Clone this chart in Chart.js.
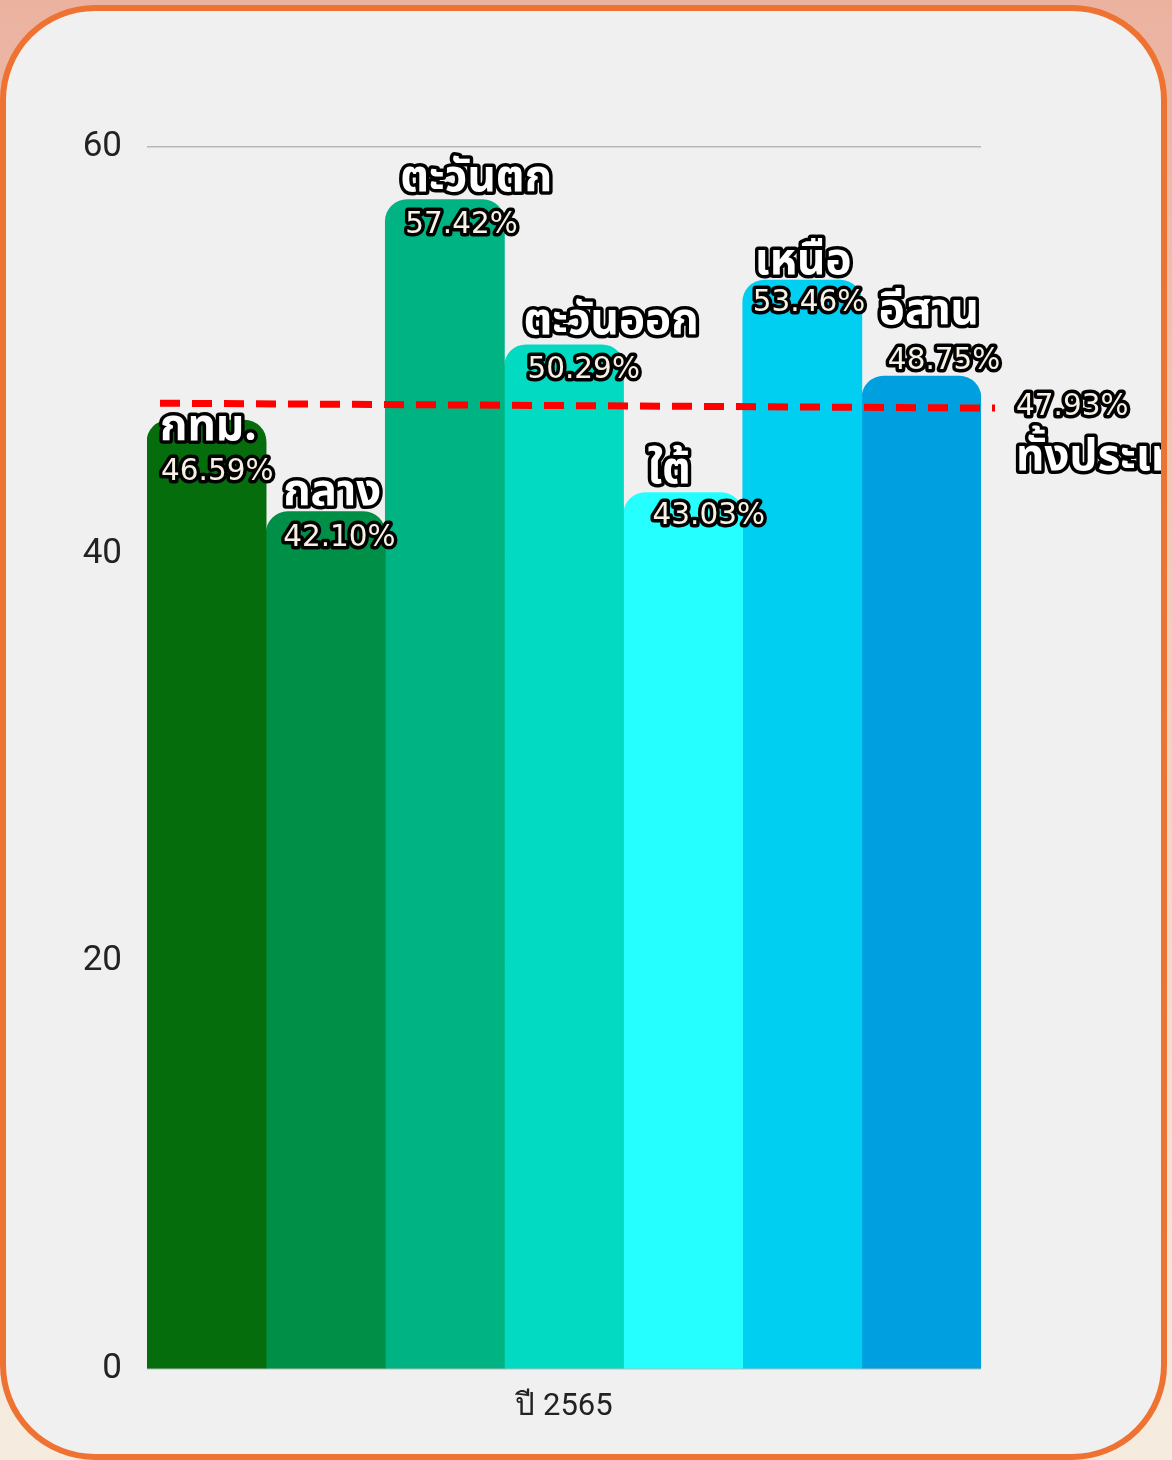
<!DOCTYPE html>
<html>
<head>
<meta charset="utf-8">
<script src="https://cdn.jsdelivr.net/npm/chart.js@4/dist/chart.umd.min.js"></script>
<style>
  html, body { margin: 0; padding: 0; }
  body {
    width: 1172px; height: 1460px; position: relative; overflow: hidden;
    background: linear-gradient(to bottom, #ebb2a0 0%, #f1d0bd 45%, #f5ece0 100%);
  }
  #card {
    position: absolute; left: 0; top: 5px; width: 1155px; height: 1443px;
    border: 6px solid #ee7333; border-radius: 95px;
    background: #f0f0f0; overflow: hidden;
  }
  #wrap { position: absolute; left: 0; top: 0; width: 1155px; height: 1443px; }
</style>
</head>
<body>
<div id="card"><div id="wrap"><canvas id="bar-chart"></canvas></div></div>
<script>
// data
const years = [ 'ปี 2565' ];
const regions = [ 'กทม.', 'กลาง', 'ตะวันตก', 'ตะวันออก', 'ใต้', 'เหนือ', 'อีสาน' ];
const shares = [ 46.59, 42.10, 57.42, 50.29, 43.03, 53.46, 48.75 ];
const nationalShare = 47.93;
const nationalName = 'ทั้งประเทศ';
const nationalLineEnds = [ 47.42, 47.18 ];
const yTicks = [ 0, 20, 40, 60 ];

const barColors = [ '#066d0d', '#008f46', '#00b383', '#02dbc2', '#26ffff', '#00cff2', '#00a0e0' ];
// label offsets (x from bar left, y baseline from bar top)
const nameShift = [ [13, 20], [17, -7], [15, -9], [19, -11], [24, -10], [12, -6], [17, -52] ];
const pctShift = [ [14, 60], [17, 34], [20, 33], [23, 33], [29, 31], [10, 31], [26, -7] ];

const nameFont = 'bold 44px "Noto Sans Thai", "Noto Sans", sans-serif';
const pctFont = '29.5px "DejaVu Sans", sans-serif';

function outlined( ctx, text, x, y, font, fill ) {
    ctx.font = font;
    ctx.lineJoin = 'round';
    ctx.lineWidth = 7;
    ctx.strokeStyle = '#000';
    ctx.strokeText( text, x, y );
    ctx.fillStyle = fill;
    ctx.fillText( text, x, y );
}

const labelPlugin = {
    id: 'regionLabels',
    afterDatasetsDraw( chart ) {
        const ctx = chart.ctx;
        const y = chart.scales.y;
        const area = chart.chartArea;
        ctx.save();
        // national average line
        ctx.strokeStyle = '#ff0000';
        ctx.lineWidth = 7;
        ctx.setLineDash( [ 20, 12 ] );
        ctx.beginPath();
        ctx.moveTo( area.left + 13, y.getPixelForValue( nationalLineEnds[0] ) );
        ctx.lineTo( area.right + 14, y.getPixelForValue( nationalLineEnds[1] ) );
        ctx.stroke();
        ctx.setLineDash( [] );
        ctx.textAlign = 'left';
        ctx.textBaseline = 'alphabetic';
        chart.data.datasets.forEach( function ( ds, i ) {
            const bar = chart.getDatasetMeta( i ).data[0];
            const left = bar.x - bar.width / 2;
            outlined( ctx, ds.label, left + nameShift[i][0], bar.y + nameShift[i][1], nameFont, '#ffffff' );
            outlined( ctx, ds.data[0].toFixed( 2 ) + '%', left + pctShift[i][0], bar.y + pctShift[i][1], pctFont, '#f6f1e4' );
        });
        const ny = y.getPixelForValue( nationalShare );
        outlined( ctx, nationalShare.toFixed( 2 ) + '%', area.right + 35, ny + 22, pctFont, '#f6f1e4' );
        outlined( ctx, nationalName, area.right + 35, ny + 77, nameFont, '#ffffff' );
        ctx.restore();
    }
};

window.addEventListener( 'load', function () {
    const datasets = regions.map( function ( name, i ) {
        return {
            label: name,
            data: [ shares[i] ],
            backgroundColor: barColors[i],
            borderRadius: 22,
            borderSkipped: 'start',
            categoryPercentage: 1,
            barPercentage: 1
        };
    });

    new Chart( document.querySelector( '#bar-chart' ), {
        type: 'bar',
        data: { labels: years, datasets: datasets },
        options: {
            responsive: true,
            maintainAspectRatio: false,
            animation: false,
            layout: { padding: { left: 0, top: 136, right: 180, bottom: 0 } },
            plugins: { legend: { display: false }, tooltip: { enabled: false } },
            scales: {
                x: {
                    grid: { display: false },
                    border: { display: false },
                    ticks: { color: '#222', font: { family: 'Roboto', size: 31 }, padding: 12 },
                    afterFit: function ( s ) { s.height = 85; }
                },
                y: {
                    min: yTicks[0],
                    max: yTicks[yTicks.length - 1],
                    afterBuildTicks: function ( s ) { s.ticks = yTicks.map( function ( v ) { return { value: v }; } ); },
                    grid: { color: '#b8b8b8', lineWidth: 1.5, drawTicks: false },
                    border: { display: false },
                    ticks: { color: '#222', font: { family: 'Roboto', size: 35 }, padding: 25 },
                    afterFit: function ( s ) { s.width = 141; }
                }
            }
        },
        plugins: [ labelPlugin ]
    });
}, false );
</script>
</body>
</html>
